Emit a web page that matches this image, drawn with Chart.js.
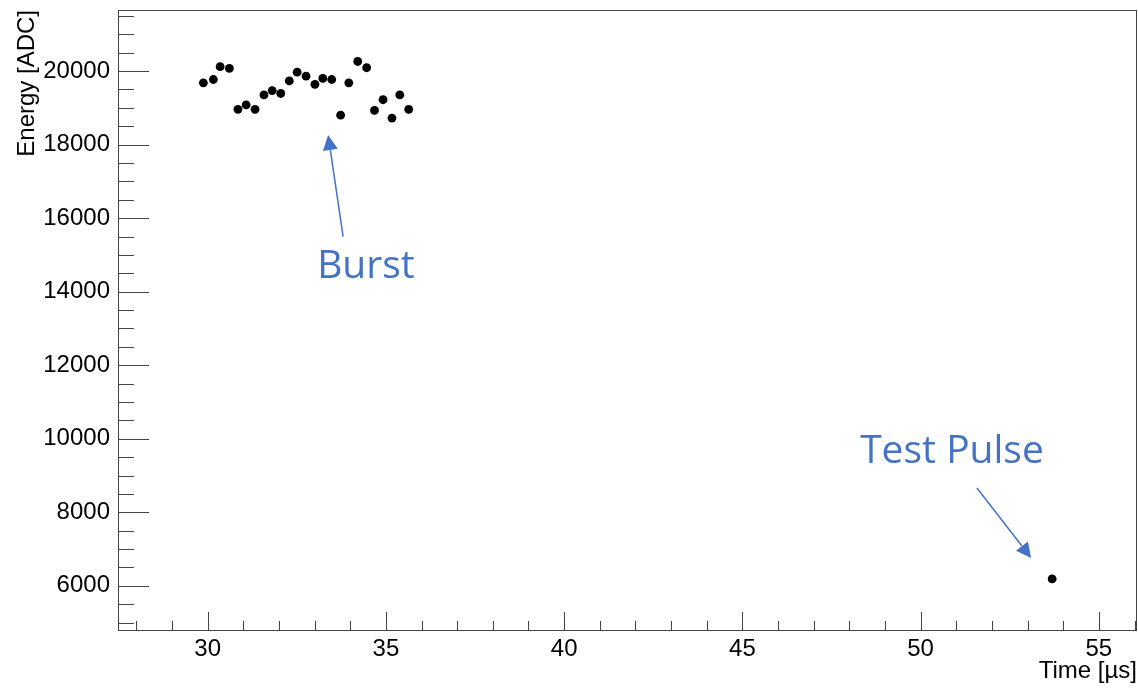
<!DOCTYPE html>
<html>
<head>
<meta charset="utf-8">
<title>Energy vs Time</title>
<script src="https://cdnjs.cloudflare.com/ajax/libs/Chart.js/4.4.1/chart.umd.min.js"></script>
<style>
  html, body { margin: 0; padding: 0; background: #fff; }
  canvas { display: block; }
</style>
</head>
<body>
<canvas id="plot" width="1138" height="690"></canvas>
<script>
// values
const burstTime = [29.88, 30.16, 30.35, 30.61, 30.85, 31.08, 31.33, 31.58, 31.81, 32.05,
  32.29, 32.51, 32.76, 33.01, 33.23, 33.48, 33.73, 33.96, 34.21, 34.46,
  34.68, 34.92, 35.17, 35.39, 35.64];
const burstEnergy = [19680, 19770, 20120, 20070, 18960, 19080, 18960, 19350, 19470, 19390,
  19730, 19970, 19860, 19640, 19800, 19770, 18800, 19680, 20260, 20090,
  18930, 19220, 18720, 19350, 18960];
const pulseTime = [53.69];
const pulseEnergy = [6190];

const xTicks = [30, 35, 40, 45, 50, 55];
const yTicks = [6000, 8000, 10000, 12000, 14000, 16000, 18000, 20000];

const xTitle = 'Time [µs]';
const yTitle = 'Energy [ADC]';

// callouts, in data units: label baseline centre, arrow tail, arrow tip
const notes = [
  { text: 'Burst', at: [34.44, 14380], from: [33.80, 15500], to: [33.38, 18260] },
  { text: 'Test Pulse', at: [50.88, 9350], from: [51.58, 8660], to: [53.10, 6760] },
];

const AXIS_FONT = { family: '"Liberation Sans", Arial, Helvetica, sans-serif', size: 24 };
const NOTE_BLUE = '#4472c4';

const toPoints = (xs, ys) => xs.map((x, i) => ({ x: x, y: ys[i] }));

// ROOT-style frame with inward ticks (major + minor)
const rootFrame = {
  id: 'rootFrame',
  afterDraw(chart) {
    const { ctx, chartArea: a, scales: { x, y } } = chart;
    ctx.save();
    ctx.strokeStyle = '#444';
    ctx.lineWidth = 1;
    ctx.strokeRect(a.left + 0.5, a.top + 0.5, a.right - a.left - 1, a.bottom - a.top);
    ctx.beginPath();
    for (let v = Math.ceil(x.min); v <= x.max; v += 1) {
      const px = Math.round(x.getPixelForValue(v)) + 0.5;
      const len = v % 5 === 0 ? 18 : 9;
      ctx.moveTo(px, a.bottom);
      ctx.lineTo(px, a.bottom - len);
    }
    for (let v = Math.ceil(y.min / 500) * 500; v <= y.max; v += 500) {
      const py = Math.round(y.getPixelForValue(v)) + 0.5;
      const len = v % 2000 === 0 ? 31 : 16;
      ctx.moveTo(a.left, py);
      ctx.lineTo(a.left + len, py);
    }
    ctx.stroke();
    ctx.restore();
  }
};

const callouts = {
  id: 'callouts',
  afterDraw(chart) {
    const { ctx, scales: { x, y } } = chart;
    ctx.save();
    ctx.fillStyle = NOTE_BLUE;
    ctx.strokeStyle = NOTE_BLUE;
    ctx.font = '39px "Open Sans", "Noto Sans", sans-serif';
    ctx.textAlign = 'center';
    ctx.textBaseline = 'alphabetic';
    notes.forEach(n => {
      ctx.fillText(n.text, x.getPixelForValue(n.at[0]), y.getPixelForValue(n.at[1]));
      const x0 = x.getPixelForValue(n.from[0]), y0 = y.getPixelForValue(n.from[1]);
      const x1 = x.getPixelForValue(n.to[0]), y1 = y.getPixelForValue(n.to[1]);
      const ang = Math.atan2(y1 - y0, x1 - x0);
      const head = 15, half = 7.5;
      const bx = x1 - head * Math.cos(ang), by = y1 - head * Math.sin(ang);
      ctx.lineWidth = 1.5;
      ctx.beginPath();
      ctx.moveTo(x0, y0);
      ctx.lineTo(bx, by);
      ctx.stroke();
      ctx.beginPath();
      ctx.moveTo(x1, y1);
      ctx.lineTo(bx + half * Math.sin(ang), by - half * Math.cos(ang));
      ctx.lineTo(bx - half * Math.sin(ang), by + half * Math.cos(ang));
      ctx.closePath();
      ctx.fill();
    });
    ctx.restore();
  }
};

const dotStyle = {
  pointRadius: 4.4,
  pointHoverRadius: 4.4,
  pointBackgroundColor: '#000',
  pointBorderWidth: 0,
  showLine: false,
};

new Chart(document.getElementById('plot').getContext('2d'), {
  type: 'scatter',
  data: {
    datasets: [
      Object.assign({ label: 'Burst', data: toPoints(burstTime, burstEnergy) }, dotStyle),
      Object.assign({ label: 'Test Pulse', data: toPoints(pulseTime, pulseEnergy) }, dotStyle),
    ],
  },
  options: {
    responsive: false,
    animation: false,
    events: [],
    layout: { autoPadding: false, padding: { top: 10, right: 1, left: 0, bottom: 0 } },
    plugins: { legend: { display: false }, tooltip: { enabled: false } },
    scales: {
      x: {
        type: 'linear',
        position: 'bottom',
        min: 27.485,
        max: 56.07,
        afterBuildTicks: s => { s.ticks = xTicks.map(v => ({ value: v })); },
        afterFit: s => { s.height = 60; s.paddingLeft = 0; s.paddingRight = 0; },
        grid: { display: false, drawTicks: false },
        border: { display: false },
        ticks: {
          color: '#000', font: AXIS_FONT, padding: 5, maxRotation: 0, autoSkip: false,
          callback: v => String(v),
        },
        title: {
          display: true, text: xTitle, align: 'end', color: '#000',
          font: AXIS_FONT, padding: { top: 0, bottom: 4 },
        },
      },
      y: {
        type: 'linear',
        position: 'left',
        min: 4800,
        max: 21660,
        afterBuildTicks: s => { s.ticks = yTicks.map(v => ({ value: v })); },
        afterFit: s => { s.width = 118; s.paddingTop = 0; s.paddingBottom = 0; },
        grid: { display: false, drawTicks: false },
        border: { display: false },
        ticks: {
          color: '#000', font: AXIS_FONT, padding: 8, autoSkip: false,
          callback: v => String(v),
        },
        title: {
          display: true, text: yTitle, align: 'end', color: '#000',
          font: AXIS_FONT, padding: { top: 13, bottom: 0 },
        },
      },
    },
  },
  plugins: [rootFrame, callouts],
});
</script>
</body>
</html>
